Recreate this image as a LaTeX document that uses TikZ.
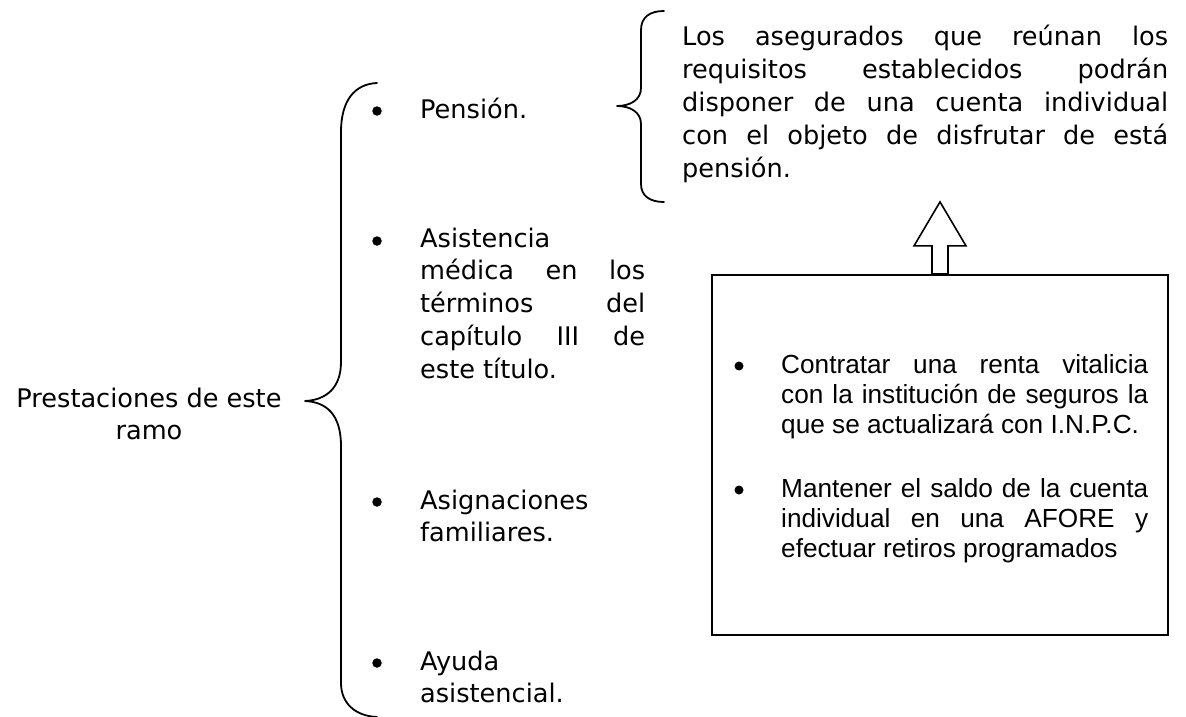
\documentclass[tikz,border=0pt]{standalone}
\usepackage{fontspec}
\setmainfont{DejaVu Sans}
\newfontfamily\arialf{Liberation Sans}
\begin{document}
\begin{tikzpicture}[x=1pt,y=-1pt]
\tikzset{
  vtxt/.style={inner sep=0pt, font=\fontsize{25.6}{32.8}\selectfont},
  atxt/.style={inner sep=0pt, font=\arialf\fontsize{26.2}{30}\selectfont},
  bul/.style={circle, fill=black, inner sep=0pt, minimum size=9.5pt},
  lt/.style={anchor=base west},
  bracest/.style={line width=1.8pt, line cap=round, line join=round},
  boxst/.style={draw, line width=2.2pt, minimum width=456pt, minimum height=360pt, inner sep=0pt},
  barrow/.style={draw, line width=1.6pt, fill=white, line join=miter}
}
\useasboundingbox (0,0) rectangle (1186,717);

% left label
\node[vtxt, anchor=base] (lab) at (149,407) {\parbox[t]{300pt}{\centering Prestaciones de este\\ ramo}};

% big brace
\draw[bracest] (377,83) .. controls (355,84) and (341,100) .. (341,132) -- (341,362)
  .. controls (341,388) and (326,400) .. (305,401)
  .. controls (326,402) and (341,414) .. (341,446) -- (341,683)
  .. controls (341,703) and (355,716) .. (377,717);

% left items
\node[bul] (bp) at (377,111) {};
\node[vtxt,lt] (pen) at (420,118) {Pensión.};
\node[bul] (ba) at (377,241) {};
\node[vtxt,lt] (asis) at (420,247) {\parbox[t]{225pt}{Asistencia\\
  \makebox[225pt][s]{médica en los}\\
  \makebox[225pt][s]{términos del}\\
  \makebox[225pt][s]{capítulo III de}\\
  este título.}};
\node[bul] (bg) at (377,502) {};
\node[vtxt,lt] (asig) at (420,509) {\parbox[t]{225pt}{Asignaciones\\ familiares.}};
\node[bul] (by) at (377,663) {};
\node[vtxt,lt] (ayu) at (420,670) {\parbox[t]{225pt}{Ayuda\\ asistencial.}};

% small brace
\draw[bracest] (664,11) .. controls (650,11) and (641,17) .. (641,30) -- (641,88)
  .. controls (641,100) and (630,106) .. (617,106)
  .. controls (630,106) and (641,112) .. (641,124) -- (641,184)
  .. controls (641,196) and (650,202) .. (664,202);

\node[vtxt,lt] (par) at (682,46) {\parbox[t]{486pt}{%
  \makebox[486pt][s]{Los asegurados que reúnan los}\\
  \makebox[486pt][s]{requisitos establecidos podrán}\\
  \makebox[486pt][s]{disponer de una cuenta individual}\\
  \makebox[486pt][s]{con el objeto de disfrutar de está}\\
  pensión.}};

% box
\node[boxst] (box) at (940,455) {};
\draw[barrow] ([xshift=-8pt]box.north) -- ++(0,-28) -- ++(-18,0) -- ++(26,-44)
  -- ++(26,44) -- ++(-18,0) -- ++(0,28) -- cycle;

\node[bul, minimum size=9pt] (bx1) at (739,366) {};
\node[atxt,lt] (t1) at (781,373) {\parbox[t]{367pt}{%
  \makebox[367pt][s]{Contratar una renta vitalicia}\\
  \makebox[367pt][s]{con la institución de seguros la}\\
  que se actualizará con I.N.P.C.}};
\node[bul, minimum size=9pt] (bx2) at (739,490) {};
\node[atxt,lt] (t2) at (781,497) {\parbox[t]{367pt}{%
  \makebox[367pt][s]{Mantener el saldo de la cuenta}\\
  \makebox[367pt][s]{individual en una AFORE y}\\
  efectuar retiros programados}};
\end{tikzpicture}
\end{document}
